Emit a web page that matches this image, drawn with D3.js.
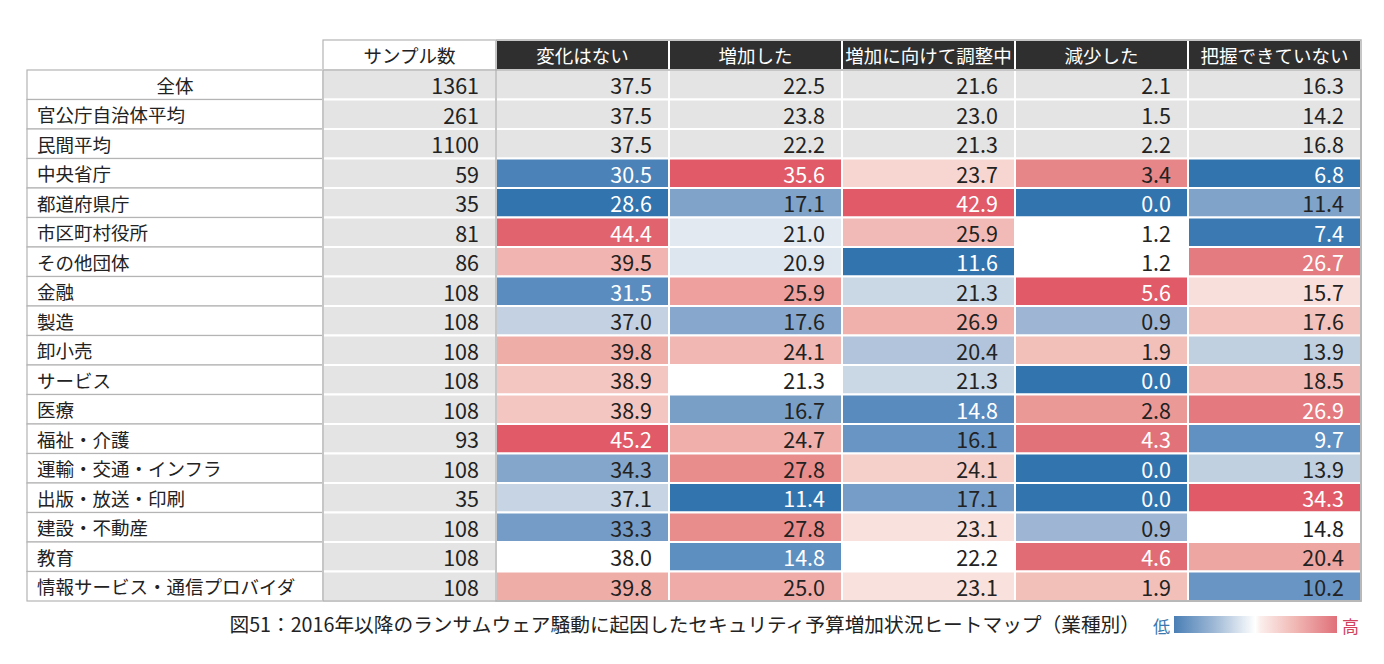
<!DOCTYPE html>
<html>
<head>
<meta charset="utf-8">
<script src="https://cdn.jsdelivr.net/npm/d3@7"></script>
<style>
  html, body { margin: 0; padding: 0; background: #ffffff; }
  svg { display: block; }
  text { font-family: "Noto Sans CJK JP", "Noto Sans", sans-serif; }
</style>
</head>
<body>
<svg id="chart" width="1384" height="664"></svg>
<script>
// ---------- data ----------
const categories = ["全体","官公庁自治体平均","民間平均","中央省庁","都道府県庁","市区町村役所","その他団体","金融","製造","卸小売","サービス","医療","福祉・介護","運輸・交通・インフラ","出版・放送・印刷","建設・不動産","教育","情報サービス・通信プロバイダ"];
const sampleHeader = "サンプル数";
const samples = [1361,261,1100,59,35,81,86,108,108,108,108,108,93,108,35,108,108,108];
const columns = ["変化はない","増加した","増加に向けて調整中","減少した","把握できていない"];
const noChange  = [37.5,37.5,37.5,30.5,28.6,44.4,39.5,31.5,37.0,39.8,38.9,38.9,45.2,34.3,37.1,33.3,38.0,39.8];
const increased = [22.5,23.8,22.2,35.6,17.1,21.0,20.9,25.9,17.6,24.1,21.3,16.7,24.7,27.8,11.4,27.8,14.8,25.0];
const adjusting = [21.6,23.0,21.3,23.7,42.9,25.9,11.6,21.3,26.9,20.4,21.3,14.8,16.1,24.1,17.1,23.1,22.2,23.1];
const decreased = [2.1,1.5,2.2,3.4,0.0,1.2,1.2,5.6,0.9,1.9,0.0,2.8,4.3,0.0,0.0,0.9,4.6,1.9];
const unknown   = [16.3,14.2,16.8,6.8,11.4,7.4,26.7,15.7,17.6,13.9,18.5,26.9,9.7,13.9,34.3,14.8,20.4,10.2];
const seriesValues = [noChange, increased, adjusting, decreased, unknown];
const summaryRows = 3; // 全体・官公庁自治体平均・民間平均 are not colour-scaled
const caption = "図51：2016年以降のランサムウェア騒動に起因したセキュリティ予算増加状況ヒートマップ（業種別）";
const legendLow = "低", legendHigh = "高";

// ---------- layout ----------
const svg = d3.select("#chart");
const tableLeft = 27, labelW = 296, tableRight = 1361;
const headerTop = 40, headerBottom = 70, tableBottom = 601;

const x = d3.scaleBand()
  .domain([sampleHeader, ...columns])
  .range([tableLeft + labelW, tableRight])
  .paddingInner(0);
const y = d3.scaleBand()
  .domain(categories)
  .range([headerBottom, tableBottom])
  .paddingInner(0);

const GREY = "#e4e4e4", HEAD = "#2f2f2f", BORDER = "#b4b4b4";
const blueI = d3.scaleLinear()
  .domain([0, 0.25, 0.45, 0.62, 0.8, 1])
  .range(["#ffffff", "#c5d3e3", "#9bb4d2", "#7ba0c8", "#5a8cc0", "#3274ae"])
  .interpolate(d3.interpolateRgb);
const redI = d3.scaleLinear()
  .domain([0, 0.25, 0.45, 0.62, 0.8, 1])
  .range(["#ffffff", "#f5cdc7", "#efaaa6", "#e88c8c", "#e2737a", "#e05a68"])
  .interpolate(d3.interpolateRgb);

// per-column diverging scale: min -> blue, median -> white, max -> red
const colourScales = seriesValues.map(vals => {
  const sub = vals.slice(summaryRows);
  const med = d3.median(sub);
  return d3.scaleLinear().domain([d3.min(sub), med, d3.max(sub)]).range([-1, 0, 1]).clamp(true);
});
const gamma = 0.6;
function tOf(ci, v) {
  const t = colourScales[ci](v);
  return Math.sign(t) * Math.pow(Math.abs(t), gamma);
}
function fillOf(ci, ri, v) {
  if (ri < summaryRows) return GREY;
  const t = tOf(ci, v);
  return t < 0 ? blueI(-t) : redI(t);
}
function textOf(ci, ri, v) {
  if (ri < summaryRows) return "#222";
  return Math.abs(tOf(ci, v)) > 0.73 ? "#ffffff" : "#222";
}

const g = svg.append("g");

// ---------- header ----------
g.append("rect")
  .attr("x", x(sampleHeader)).attr("y", headerTop)
  .attr("width", x.bandwidth()).attr("height", headerBottom - headerTop)
  .attr("fill", "#fff").attr("stroke", BORDER).attr("stroke-width", 1.2);
g.append("text")
  .attr("x", x(sampleHeader) + x.bandwidth() / 2).attr("y", (headerTop + headerBottom) / 2)
  .attr("text-anchor", "middle").attr("dominant-baseline", "central")
  .attr("font-size", 18.5).attr("fill", "#222").text(sampleHeader);

g.selectAll("rect.head").data(columns).join("rect")
  .attr("class", "head")
  .attr("x", d => x(d)).attr("y", headerTop)
  .attr("width", x.bandwidth()).attr("height", headerBottom - headerTop)
  .attr("fill", HEAD).attr("stroke", "#fff").attr("stroke-width", 2);
g.selectAll("text.head").data(columns).join("text")
  .attr("class", "head")
  .attr("x", d => x(d) + x.bandwidth() / 2).attr("y", (headerTop + headerBottom) / 2)
  .attr("text-anchor", "middle").attr("dominant-baseline", "central")
  .attr("font-size", 18.5).attr("fill", "#fff").text(d => d);

// ---------- label column ----------
const rows = g.selectAll("g.row").data(categories).join("g").attr("class", "row");
rows.append("rect")
  .attr("x", tableLeft).attr("y", d => y(d))
  .attr("width", labelW).attr("height", y.bandwidth())
  .attr("fill", "#fff").attr("stroke", BORDER).attr("stroke-width", 1.2);
rows.append("text")
  .attr("x", (d, i) => i === 0 ? tableLeft + labelW / 2 : tableLeft + 10)
  .attr("y", d => y(d) + y.bandwidth() / 2)
  .attr("text-anchor", (d, i) => i === 0 ? "middle" : "start")
  .attr("dominant-baseline", "central")
  .attr("font-size", 18.5).attr("fill", "#222").text(d => d);

// ---------- sample column ----------
const pad = 17;
const numSize = 21.5;
g.selectAll("rect.sample").data(samples).join("rect")
  .attr("class", "sample")
  .attr("x", x(sampleHeader)).attr("y", (d, i) => y(categories[i]))
  .attr("width", x.bandwidth()).attr("height", y.bandwidth())
  .attr("fill", GREY).attr("stroke", "#fff").attr("stroke-width", 2);
g.selectAll("text.sample").data(samples).join("text")
  .attr("class", "sample")
  .attr("x", x(sampleHeader) + x.bandwidth() - pad)
  .attr("y", (d, i) => y(categories[i]) + y.bandwidth() / 2)
  .attr("text-anchor", "end").attr("dominant-baseline", "central")
  .attr("font-size", numSize).attr("fill", "#222").text(d => d);

// ---------- heat cells ----------
const cells = [];
seriesValues.forEach((vals, ci) => vals.forEach((v, ri) => cells.push({ ci, ri, v })));
g.selectAll("rect.cell").data(cells).join("rect")
  .attr("class", "cell")
  .attr("x", d => x(columns[d.ci])).attr("y", d => y(categories[d.ri]))
  .attr("width", x.bandwidth()).attr("height", y.bandwidth())
  .attr("fill", d => fillOf(d.ci, d.ri, d.v))
  .attr("stroke", "#fff").attr("stroke-width", 2);
g.selectAll("text.cell").data(cells).join("text")
  .attr("class", "cell")
  .attr("x", d => x(columns[d.ci]) + x.bandwidth() - pad)
  .attr("y", d => y(categories[d.ri]) + y.bandwidth() / 2)
  .attr("text-anchor", "end").attr("dominant-baseline", "central")
  .attr("font-size", numSize).attr("fill", d => textOf(d.ci, d.ri, d.v))
  .text(d => d3.format(".1f")(d.v));

// outer border of data region
g.append("rect")
  .attr("x", x(sampleHeader)).attr("y", headerBottom)
  .attr("width", tableRight - x(sampleHeader)).attr("height", tableBottom - headerBottom)
  .attr("fill", "none").attr("stroke", BORDER).attr("stroke-width", 1.5);
g.append("rect")
  .attr("x", x(columns[0])).attr("y", headerTop)
  .attr("width", tableRight - x(columns[0])).attr("height", tableBottom - headerTop)
  .attr("fill", "none").attr("stroke", BORDER).attr("stroke-width", 1.5);

// ---------- caption ----------
g.append("text")
  .attr("x", 1140).attr("y", 632)
  .attr("text-anchor", "end")
  .attr("font-size", 19.7).attr("fill", "#222").text(caption);

// ---------- legend ----------
const defs = svg.append("defs");
const grad = defs.append("linearGradient").attr("id", "lg").attr("x1", "0%").attr("x2", "100%");
[[0, "#4a7fb5"], [0.25, "#9fb9d6"], [0.47, "#f4f7fa"], [0.5, "#ffffff"], [0.53, "#fbeeec"], [0.75, "#f0b6b2"], [1, "#e0707a"]]
  .forEach(([o, c]) => grad.append("stop").attr("offset", o).attr("stop-color", c));
const lgX = d3.scaleLinear().domain([0, 1]).range([1174, 1337]);
g.append("rect")
  .attr("x", lgX(0)).attr("y", 616).attr("width", lgX(1) - lgX(0)).attr("height", 17)
  .attr("fill", "url(#lg)");
g.append("text").attr("x", lgX(0) - 4).attr("y", 625).attr("text-anchor", "end")
  .attr("dominant-baseline", "central").attr("font-size", 17).attr("fill", "#3a78b0").text(legendLow);
g.append("text").attr("x", lgX(1) + 5).attr("y", 625).attr("text-anchor", "start")
  .attr("dominant-baseline", "central").attr("font-size", 17).attr("fill", "#d2405c").text(legendHigh);
</script>
</body>
</html>
